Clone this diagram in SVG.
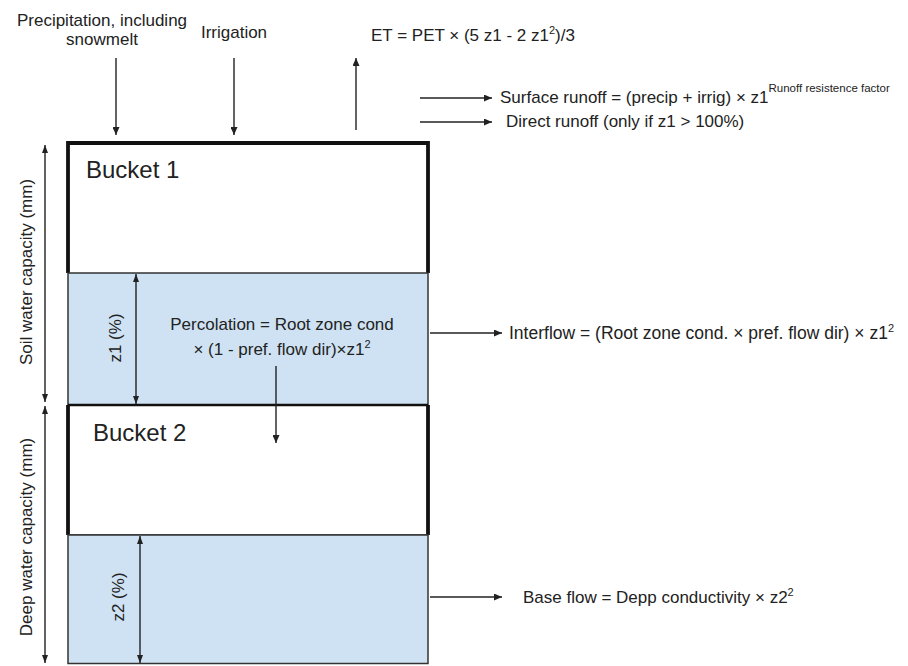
<svg xmlns="http://www.w3.org/2000/svg" width="908" height="666" viewBox="0 0 908 666">
<style>
text{font-family:"Liberation Sans",Arial,sans-serif;font-size:17px;fill:#222}
.big{font-size:24px}
.sup{font-size:11px}
.line{stroke:#222;stroke-width:1.4;fill:none}
.thick{stroke:#111;stroke-width:3.8;fill:none}
.blue{fill:#cfe2f3;stroke:#333;stroke-width:1.5}
</style>
<defs>
<marker id="ah" viewBox="0 0 8 7" refX="8" refY="3.5" markerWidth="8" markerHeight="7" markerUnits="userSpaceOnUse" orient="auto-start-reverse">
<path d="M0,0 L8,3.5 L0,7 z" fill="#222"/>
</marker>
<marker id="ahs" viewBox="0 0 8 6" refX="8" refY="3" markerWidth="8" markerHeight="6" markerUnits="userSpaceOnUse" orient="auto-start-reverse">
<path d="M0,0 L8,3 L0,6 z" fill="#222"/>
</marker>
</defs>

<g id="bucket1">
<rect x="68" y="143" width="360" height="130" fill="#fff"/>
<path class="thick" d="M68,273 V143 H428 V273"/>
<text class="big" x="86" y="178">Bucket 1</text>
</g>

<g id="z1-layer">
<rect class="blue" x="68" y="273" width="360" height="132"/>
<text transform="translate(121,338) rotate(-90)" text-anchor="middle">z1 (%)</text>
<text x="282" y="330" text-anchor="middle">Percolation = Root zone cond</text>
<text x="282" y="355" text-anchor="middle">× (1 - pref. flow dir)×z1<tspan class="sup" dy="-7">2</tspan></text>
</g>

<g id="bucket2">
<rect x="68" y="405" width="360" height="130" fill="#fff"/>
<path class="thick" d="M68,535 V405"/>
<path class="thick" d="M428,535 V405"/>
<line x1="68" y1="405" x2="428" y2="405" stroke="#111" stroke-width="2.5"/>
<line x1="68" y1="535" x2="428" y2="535" stroke="#333" stroke-width="1.5"/>
<text class="big" x="93" y="441">Bucket 2</text>
</g>

<g id="z2-layer">
<rect class="blue" x="68" y="535" width="360" height="128.5"/>
<text transform="translate(124,597) rotate(-90)" text-anchor="middle">z2 (%)</text>
</g>

<g id="labels">
<text transform="translate(32,272) rotate(-90)" text-anchor="middle">Soil water capacity (mm)</text>
<text transform="translate(32,537) rotate(-90)" text-anchor="middle">Deep water capacity (mm)</text>
<text x="102" y="26" text-anchor="middle">Precipitation, including</text>
<text x="102" y="45" text-anchor="middle">snowmelt</text>
<text x="234" y="38" text-anchor="middle">Irrigation</text>
<text x="371" y="41">ET = PET × (5 z1 - 2 z1<tspan class="sup" dy="-7">2</tspan><tspan dy="7">)/3</tspan></text>
<text x="500" y="103">Surface runoff = (precip + irrig) × z1<tspan font-size="11.5" dy="-11">Runoff resistence factor</tspan></text>
<text x="506" y="127">Direct runoff (only if z1 &gt; 100%)</text>
<text x="509" y="339" style="font-size:17.5px">Interflow = (Root zone cond. × pref. flow dir) × z1<tspan class="sup" dy="-7">2</tspan></text>
<text x="523" y="603">Base flow = Depp conductivity × z2<tspan class="sup" dy="-7">2</tspan></text>
</g>

<g id="connectors">
<line class="line" x1="116" y1="58" x2="116" y2="135" marker-end="url(#ah)"/>
<line class="line" x1="234" y1="58" x2="234" y2="135" marker-end="url(#ah)"/>
<line class="line" x1="356" y1="130" x2="356" y2="58" marker-end="url(#ah)"/>
<line class="line" x1="420" y1="98" x2="492" y2="98" marker-end="url(#ah)"/>
<line class="line" x1="420" y1="122" x2="492" y2="122" marker-end="url(#ah)"/>
<line class="line" x1="430" y1="333" x2="502" y2="333" marker-end="url(#ah)"/>
<line class="line" x1="430" y1="597" x2="502" y2="597" marker-end="url(#ah)"/>
<line class="line" x1="276" y1="366" x2="276" y2="443" marker-end="url(#ah)"/>
<line class="line" x1="45" y1="145" x2="45" y2="402" marker-start="url(#ahs)" marker-end="url(#ahs)"/>
<line class="line" x1="45" y1="406" x2="45" y2="663" marker-start="url(#ahs)" marker-end="url(#ahs)"/>
<line class="line" x1="136" y1="274" x2="136" y2="404" marker-start="url(#ahs)" marker-end="url(#ahs)"/>
<line class="line" x1="140" y1="536" x2="140" y2="663" marker-start="url(#ahs)" marker-end="url(#ahs)"/>
</g>
</svg>
